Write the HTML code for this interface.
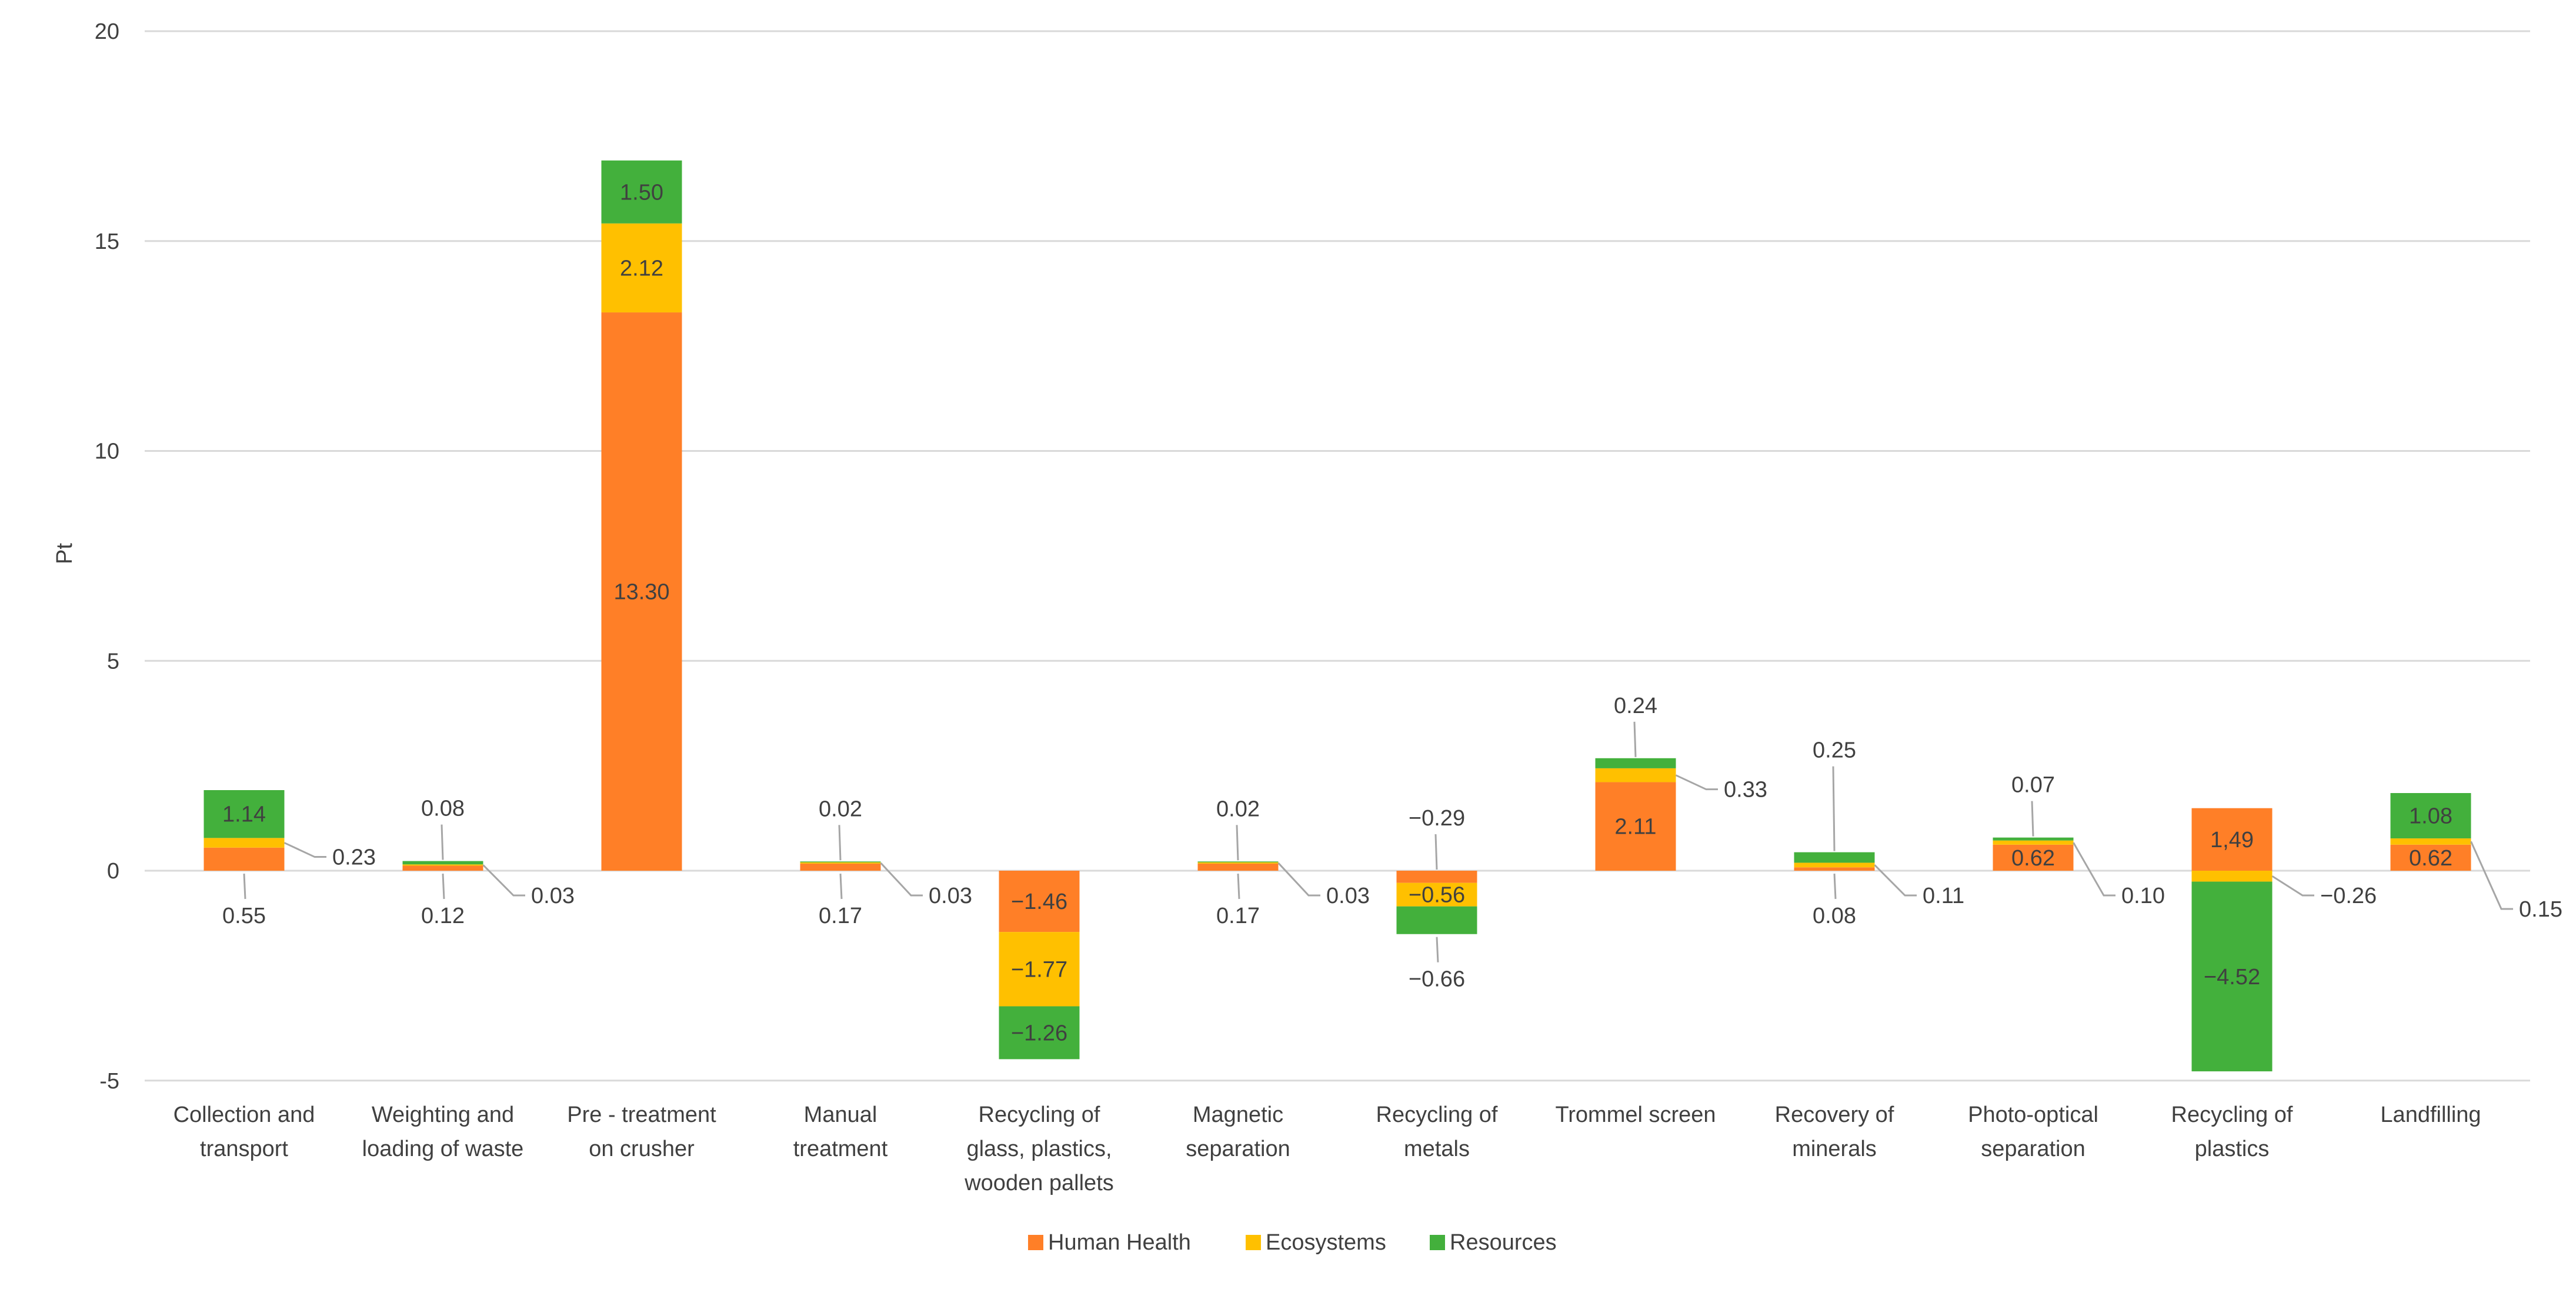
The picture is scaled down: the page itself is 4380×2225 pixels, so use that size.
<!DOCTYPE html>
<html><head><meta charset="utf-8"><style>
html,body{margin:0;padding:0;background:#fff}
svg{display:block}
text{font-family:"Liberation Sans",sans-serif;fill:#404040}
</style></head><body>
<svg id="chart" width="4380" height="2225" viewBox="0 0 4380 2225" xmlns="http://www.w3.org/2000/svg">
<g id="grid"></g><g id="bars"></g><g id="labels"></g><g id="xlabels"></g>
<text transform="translate(122,941) rotate(-90)" text-anchor="middle" font-size="38">Pt</text>
<g id="legend"></g>
</svg>
<script>
const categories = [["Collection and","transport"],["Weighting and","loading of waste"],["Pre - treatment","on crusher"],["Manual","treatment"],["Recycling of","glass, plastics,","wooden pallets"],["Magnetic","separation"],["Recycling of","metals"],["Trommel screen"],["Recovery of","minerals"],["Photo-optical","separation"],["Recycling of","plastics"],["Landfilling"]];
const humanHealth = [0.55,0.12,13.30,0.17,-1.46,0.17,-0.29,2.11,0.08,0.62,1.49,0.62];
const ecosystems = [0.23,0.03,2.12,0.03,-1.77,0.03,-0.56,0.33,0.11,0.10,-0.26,0.15];
const resources = [1.14,0.08,1.50,0.02,-1.26,0.02,-0.66,0.24,0.25,0.07,-4.52,1.08];
const hhText = ["0.55","0.12","13.30","0.17","\u22121.46","0.17","\u22120.29","2.11","0.08","0.62","1,49","0.62"];
const ecoText = ["0.23","0.03","2.12","0.03","\u22121.77","0.03","\u22120.56","0.33","0.11","0.10","\u22120.26","0.15"];
const resText = ["1.14","0.08","1.50","0.02","\u22121.26","0.02","\u22120.66","0.24","0.25","0.07","\u22124.52","1.08"];
const yTicks = [-5,0,5,10,15,20];
// label placement modes
const hhMode = ["down","down","in","down","in","down","up","in","down","in","in","in"];
const ecoMode = ["right","rightlow","in","rightlow","in","rightlow","in","right","rightlow","rightlow","rightlow","rightlow2"];
const resMode = ["in","up","in","up","in","up","down","up","up2","up","in","in"];

const NS="http://www.w3.org/2000/svg";
const X0=246, BAND=338, BW=137, Y0=1480, UNIT=71.35;
const y = v => Y0 - v*UNIT;
const cx = i => X0 + BAND*(i+0.5);
const colors=["#FF7F27","#FFC000","#43B03C"];
function mk(tag, attrs, parent){const e=document.createElementNS(NS,tag);for(const k in attrs)e.setAttribute(k,attrs[k]);parent.appendChild(e);return e;}
const grid=document.getElementById('grid'),bars=document.getElementById('bars'),labels=document.getElementById('labels'),xl=document.getElementById('xlabels'),leg=document.getElementById('legend');
yTicks.forEach(t=>{
  const l=mk('line',{x1:X0,x2:X0+BAND*12,y1:y(t),y2:y(t),stroke:'#D9D9D9','stroke-width':3},grid);
  
  
  const tx=mk('text',{x:203,y:y(t)+13,'text-anchor':'end','font-size':38},grid);tx.textContent=t;
  
  
});
const series=[humanHealth,ecosystems,resources];
const texts=[hhText,ecoText,resText];
const modes=[hhMode,ecoMode,resMode];
const names=['human-health','ecosystems','resources'];
categories.forEach((cat,i)=>{
  let pos=0,neg=0;const segs=[];
  series.forEach((s,k)=>{
    const v=s[i];let a,b;
    if(v>=0){a=pos;b=pos+v;pos=b;}else{a=neg;b=neg+v;neg=b;}
    const top=Math.min(y(a),y(b)),h=Math.abs(y(a)-y(b));
    const r=mk('rect',{x:cx(i)-BW/2,y:top,width:BW,height:h,fill:colors[k]},bars);
    
    
    segs.push({top,h,mid:top+h/2,bot:top+h});
  });
  segs.forEach((sg,k)=>{
    const m=modes[k][i],c=cx(i),txt=texts[k][i];let tx,ty,anchor='middle',pts=null;
    if(m==='in'){tx=c;ty=sg.mid;}
    else if(m==='down'){ty=sg.bot+76;tx=c;pts=[[c,sg.bot+5],[c+2,sg.bot+48]];}
    else if(m==='up'||m==='up2'){const d=m==='up2'?174:90;ty=sg.top-d;tx=c;pts=[[c,sg.top-2],[c-2,ty+28]];}
    else {const ly=m==='right'?sg.mid+24:(m==='rightlow2'?Y0+65:Y0+42);
      const rx=c+BW/2;pts=[[rx,sg.mid],[c+120,ly],[c+140,ly]];tx=c+150;ty=ly;anchor='start';}
    if(pts){const p=mk('polyline',{points:pts.map(q=>q.join(',')).join(' '),fill:'none',stroke:'#A6A6A6','stroke-width':3},labels);
      
      }
    const t=mk('text',{x:tx,y:ty+13,'text-anchor':anchor,'font-size':38},labels);t.textContent=txt;
    
    
  });
  cat.forEach((line,j)=>{
    const t=mk('text',{x:cx(i),y:1907+j*58,'text-anchor':'middle','font-size':38},xl);t.textContent=line;
    
    
  });
});
const legendItems=[["Human Health",1748],["Ecosystems",2118],["Resources",2431]];
legendItems.forEach((it,k)=>{
  const r=mk('rect',{x:it[1],y:2099,width:26,height:26,fill:colors[k]},leg);
  
  
  const t=mk('text',{x:it[1]+34,y:2124,'font-size':38},leg);t.textContent=it[0];
  
  
});
</script>
</body></html>
